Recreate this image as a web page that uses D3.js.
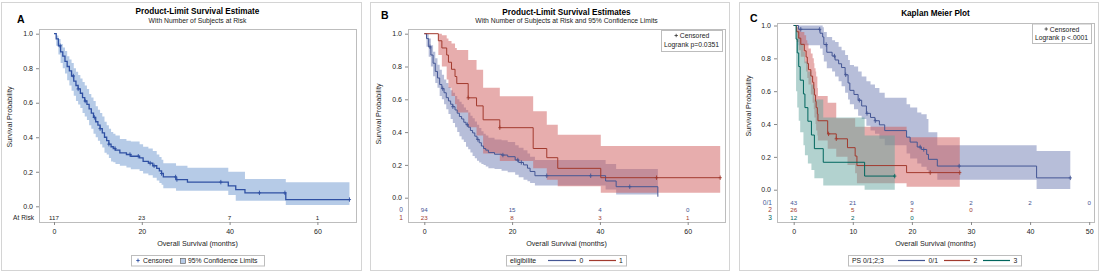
<!DOCTYPE html>
<html>
<head>
<meta charset="utf-8">
<script src="https://cdn.jsdelivr.net/npm/d3@7"></script>
<style>
  body { margin: 0; background: #fff; }
  svg { display: block; font-family: "Liberation Sans", Arial, sans-serif; }
</style>
</head>
<body>
<svg id="chart" width="1100" height="272"></svg>
<script>
// ---- Panel A: all subjects ----
const aTime = [0,0.5,1,1.5,2,2.5,3,3.5,4,4.5,5,5.5,6,6.5,7,7.5,8,8.5,9,9.5,10,10.5,11,11.5,12,12.5,13,13.5,14,15,16.5,17.5,19.5,20.3,21.5,22.5,23.4,24,24.5,24.9,27.8,30.4,39.7,41.4,43.5,52.8];
const aSurv = [1,.97,.93,.895,.87,.84,.81,.785,.755,.725,.70,.68,.655,.63,.61,.59,.565,.54,.515,.49,.47,.45,.425,.40,.38,.36,.345,.335,.325,.31,.30,.29,.28,.26,.25,.235,.22,.205,.19,.17,.155,.14,.118,.097,.078,.039];
const aLow  = [1,.93,.88,.83,.80,.77,.73,.70,.67,.64,.61,.59,.57,.54,.52,.50,.47,.45,.42,.40,.38,.36,.34,.31,.30,.28,.26,.255,.245,.235,.225,.215,.205,.19,.18,.165,.15,.135,.125,.105,.09,.09,.065,.032,.032,.007];
const aUp   = [1,.99,.97,.94,.92,.90,.87,.85,.83,.80,.78,.76,.74,.72,.70,.68,.65,.63,.61,.58,.56,.54,.52,.49,.47,.45,.43,.42,.41,.39,.38,.375,.36,.345,.335,.32,.30,.285,.27,.25,.235,.224,.20,.20,.158,.14];
const aEnd = 67.3;
const aCens = [1.4,4.4,5.5,7.1,9.2,10.5,12.5,13.9,17.3,19.2,21.9,22.8,24.5,27.7,28.0,38,46.8,52.6,67.3];
const aRiskTimes = [0,20,40,60];
const aRisk = [117,23,7,1];

// ---- Panel B: eligibilite 0 / 1 ----
const bTime0 = [0,0.5,1,1.5,2,2.5,3,3.5,4,4.5,5,5.5,6,6.5,7,7.5,8,8.5,9,9.5,10,10.5,11,11.5,12,12.5,13,13.5,14,14.6,16,17.6,19,20.7,21.5,22.6,23.5,24.1,25.2,41.3,43.7,53.2];
const bSurv0 = [1,.97,.92,.87,.82,.77,.73,.69,.665,.64,.61,.59,.57,.555,.535,.515,.495,.48,.46,.445,.43,.41,.395,.375,.355,.335,.315,.30,.29,.275,.265,.26,.25,.23,.215,.20,.18,.16,.134,.102,.067,.006];
const bLow0  = [1,.92,.86,.80,.74,.70,.67,.62,.60,.57,.54,.51,.48,.455,.43,.40,.375,.355,.34,.31,.295,.275,.255,.24,.225,.215,.205,.20,.19,.18,.175,.165,.155,.14,.125,.11,.10,.09,.075,.05,.02,.02];
const bUp0   = [1,1,.97,.93,.89,.85,.81,.78,.75,.72,.70,.675,.655,.64,.62,.60,.585,.57,.55,.535,.52,.50,.485,.465,.445,.425,.405,.39,.38,.365,.355,.35,.34,.32,.305,.29,.27,.25,.23,.205,.175,.175];
const bEnd0 = 53.2;
const bCens0 = [1.3,4.2,6.5,9.8,12.2,17.9,21.3,22.1,27.9,37.9,46.8];

const bTime1 = [0,3.2,4.0,5.1,5.5,6.2,7.0,7.4,10.0,11.9,13.4,17.2,24.8,27.9,30.4,40.2];
const bSurv1 = [1,.957,.913,.870,.826,.783,.739,.696,.609,.56,.475,.427,.30,.244,.179,.122];
const bLow1  = [1,.87,.80,.72,.67,.62,.57,.52,.43,.38,.27,.224,.18,.11,.07,.03];
const bUp1   = [1,1,.99,.97,.955,.94,.913,.90,.84,.78,.67,.618,.527,.445,.384,.315];
const bEnd1 = 67.4;
const bCens1 = [10.0,17.2,52.9,67.4];

const bRiskTimes = [0,20,40,60];
const bRisk0 = [94,15,4,0];
const bRisk1 = [23,8,3,1];

// ---- Panel C: PS 0/1, 2, 3 ----
const cTime0 = [0,0.8,4.45,4.9,5.1,5.6,6.5,7.0,7.6,8.1,8.7,9.2,9.5,10.2,10.9,11.5,12.3,13.0,13.75,14.5,15.4,19.1,19.7,20.9,21.6,22.5,22.8,24.3,41.1];
const cSurv0 = [1,.977,.953,.93,.884,.837,.814,.79,.767,.744,.70,.65,.605,.58,.545,.51,.465,.44,.42,.395,.36,.32,.29,.26,.245,.215,.185,.144,.072];
const cLow0  = [1,.88,.86,.82,.78,.74,.72,.69,.66,.63,.59,.55,.52,.49,.45,.43,.39,.36,.34,.31,.27,.22,.19,.16,.14,.12,.10,.06,.005];
const cUp0   = [1,1,1,.99,.96,.93,.91,.90,.87,.85,.82,.79,.76,.75,.72,.69,.66,.64,.62,.59,.56,.52,.50,.47,.46,.43,.35,.27,.235];
const cEnd0 = 46.8;
const cCens0 = [1.2,4.4,5.5,6.9,8.8,11.1,12.4,13.8,21.4,22.0,28.0,46.8];

const cTime2 = [0,0.5,0.85,1.2,1.8,2.1,2.3,2.5,2.9,3.2,3.4,3.5,3.7,3.8,4.0,4.1,5.75,7.2,9.1,10.4,10.7,19.1];
const cSurv2 = [1,.962,.923,.885,.846,.808,.769,.731,.692,.654,.615,.577,.538,.50,.462,.42,.34,.31,.256,.205,.147,.104];
const cLow2  = [1,.90,.85,.81,.77,.72,.68,.64,.58,.53,.49,.44,.40,.36,.33,.30,.25,.20,.15,.10,.04,.018];
const cUp2   = [1,.99,.98,.96,.94,.91,.89,.86,.83,.80,.77,.74,.72,.69,.62,.57,.53,.435,.435,.384,.384,.32];
const cEnd2 = 28.1;
const cCens2 = [5.9,7.2,23.1,28.1];

const cTime3 = [0,0.4,0.6,0.85,1.1,1.65,1.9,2.4,3.0,3.5,5.0,12.0];
const cSurv3 = [1,.917,.833,.75,.667,.583,.50,.417,.333,.25,.167,.083];
const cLow3  = [1,.6,.5,.42,.35,.27,.21,.16,.12,.07,.025,0];
const cUp3   = [1,.99,.97,.93,.89,.84,.78,.72,.64,.55,.44,.33];
const cEnd3 = 17.1;
const cCens3 = [17.1];

const cRiskTimes = [0,10,20,30,40,50];
const cRisk0 = [43,21,9,2,2,0];
const cRisk2 = [26,5,2,0];
const cRisk3 = [12,2,0];

const yTicks = [0,0.2,0.4,0.6,0.8,1.0];

// colours (SAS HTMLBlue-like)
const blue = "#445694", red = "#A23A2E", green = "#01665E";
const bandBlue = "#6F7EB3", bandRed = "#D05B5B", bandGreen = "#66A5A0";
const lineA = "#2F50A3", bandA = "#B6CBE7";

const svg = d3.select("#chart");

function curve(time, surv, low, up, end, cens, color, band, bandOpacity, width) {
  return { time, surv, low, up, end, cens, color, band, bandOpacity, width };
}

function stepVal(times, vals, t) {
  const i = d3.bisectRight(times, t) - 1;
  return vals[Math.max(i, 0)];
}

function drawPanel(p) {
  const g = svg.append("g");
  // outer panel border
  g.append("rect").attr("x", p.box[0] + 0.5).attr("y", 2.5)
    .attr("width", p.box[1] - p.box[0]).attr("height", 268)
    .attr("fill", "none").attr("stroke", "#d4d4d4");

  const x = d3.scaleLinear().domain(p.xDomain).range(p.xRange);
  const y = d3.scaleLinear().domain([0, 1]).range(p.yRange);
  const f = p.frame;

  // panel letter
  g.append("text").attr("x", p.letterPos[0]).attr("y", p.letterPos[1])
    .attr("font-size", 10.5).attr("font-weight", "bold").text(p.letter);

  // titles
  const cx = f.x + f.w / 2;
  g.append("text").attr("x", cx).attr("y", p.titleY).attr("text-anchor", "middle")
    .attr("font-size", 8.2).attr("font-weight", "bold").text(p.title);
  if (p.subtitle) {
    g.append("text").attr("x", cx).attr("y", p.titleY + 8.5).attr("text-anchor", "middle")
      .attr("font-size", 6.8).attr("fill", "#222").text(p.subtitle);
  }

  // bands
  const clip = "clip" + p.letter;
  g.append("clipPath").attr("id", clip).append("rect")
    .attr("x", f.x).attr("y", f.y).attr("width", f.w).attr("height", f.h);
  const plot = g.append("g").attr("clip-path", `url(#${clip})`);

  const area = d3.area().curve(d3.curveStepAfter)
    .x(d => x(d[0])).y0(d => y(d[1])).y1(d => y(d[2]));
  const line = d3.line().curve(d3.curveStepAfter)
    .x(d => x(d[0])).y(d => y(d[1]));

  p.curves.forEach(c => {
    const pts = c.time.map((t, i) => [t, c.low[i], c.up[i]]);
    pts.push([c.end, c.low[c.low.length - 1], c.up[c.up.length - 1]]);
    plot.append("path").attr("d", area(pts))
      .attr("fill", c.band).attr("fill-opacity", c.bandOpacity);
  });
  p.curves.forEach(c => {
    const pts = c.time.map((t, i) => [t, c.surv[i]]);
    pts.push([c.end, c.surv[c.surv.length - 1]]);
    plot.append("path").attr("d", line(pts)).attr("fill", "none")
      .attr("stroke", c.color).attr("stroke-width", c.width);
    plot.selectAll(null).data(c.cens).join("path")
      .attr("transform", t => `translate(${x(t)},${y(stepVal(c.time, c.surv, t))})`)
      .attr("d", "M-1.6,0H1.6M0,-2.2V2.2")
      .attr("stroke", c.color).attr("stroke-width", 0.9);
  });

  // frame
  g.append("rect").attr("x", f.x + 0.5).attr("y", f.y + 0.5).attr("width", f.w).attr("height", f.h)
    .attr("fill", "none").attr("stroke", "#bdbdbd");

  // axes
  const yAxis = g.append("g").attr("transform", `translate(${f.x},0)`)
    .call(d3.axisLeft(y).tickValues(yTicks).tickFormat(d3.format(".1f")).tickSize(3).tickPadding(3));
  const xAxis = g.append("g").attr("transform", `translate(0,${f.y + f.h})`)
    .call(d3.axisBottom(x).tickValues(p.xTicks).tickSize(3).tickPadding(4));
  [yAxis, xAxis].forEach(a => {
    a.select(".domain").remove();
    a.selectAll(".tick line").attr("stroke", "#888");
    a.selectAll(".tick text").attr("fill", "#222").attr("font-size", 7)
      .attr("font-family", "Liberation Sans, Arial, sans-serif");
  });

  // axis titles
  g.append("text").attr("x", cx).attr("y", 246).attr("text-anchor", "middle")
    .attr("font-size", 7.2).attr("fill", "#222").text("Overall Survival (months)");
  g.append("text").attr("transform", `translate(${p.yLabelX},${p.yLabelY}) rotate(-90)`)
    .attr("text-anchor", "middle").attr("font-size", 7.2).attr("fill", "#222")
    .text("Survival Probability");

  // at-risk table
  p.risk.forEach(r => {
    g.append("text").attr("x", f.x - 5).attr("y", r.y).attr("text-anchor", "end")
      .attr("font-size", 6.6).attr("fill", r.labelColor).text(r.label);
    g.selectAll(null).data(r.values).join("text")
      .attr("x", (v, i) => x(r.times[i])).attr("y", r.y).attr("text-anchor", "middle")
      .attr("font-size", 6.2).attr("fill", r.color).text(v => v);
  });

  // inset legend (Censored + logrank)
  if (p.inset) {
    const b = p.inset;
    g.append("rect").attr("x", b.x + 0.5).attr("y", b.y + 0.5).attr("width", b.w).attr("height", b.h)
      .attr("fill", "#fff").attr("stroke", "#bdbdbd");
    const mx = b.x + b.w / 2;
    g.append("path").attr("d", `M${mx - 17},${b.y + 5.5}h3.4M${mx - 15.3},${b.y + 3.8}v3.4`)
      .attr("stroke", "#333").attr("stroke-width", 0.8);
    g.append("text").attr("x", mx + 3).attr("y", b.y + 8).attr("text-anchor", "middle")
      .attr("font-size", 6.8).attr("fill", "#222").text("Censored");
    g.append("text").attr("x", mx).attr("y", b.y + 16.5).attr("text-anchor", "middle")
      .attr("font-size", 6.8).attr("fill", "#222").text(b.text);
  }

  // bottom legend
  const L = p.legend;
  g.append("rect").attr("x", L.x + 0.5).attr("y", 255.5).attr("width", L.w).attr("height", 10.5)
    .attr("fill", "#fff").attr("stroke", "#bdbdbd");
  L.items.forEach(it => {
    if (it.type === "text") {
      g.append("text").attr("x", it.x).attr("y", 263.3).attr("font-size", 6.8)
        .attr("fill", "#222").text(it.text);
    } else if (it.type === "line") {
      g.append("line").attr("x1", it.x).attr("x2", it.x + it.len).attr("y1", 260.5).attr("y2", 260.5)
        .attr("stroke", it.color).attr("stroke-width", 1.2);
    } else if (it.type === "plus") {
      g.append("path").attr("d", `M${it.x - 1.7},260.5h3.4M${it.x},258.6v3.8`)
        .attr("stroke", it.color).attr("stroke-width", 0.9);
    } else if (it.type === "square") {
      g.append("rect").attr("x", it.x + 0.5).attr("y", 258.5).attr("width", 5).attr("height", 5)
        .attr("fill", it.color).attr("stroke", "#666").attr("stroke-width", 0.7);
    }
  });
}

// ---- Panel A ----
drawPanel({
  letter: "A", letterPos: [17, 22.5], box: [1, 361],
  title: "Product-Limit Survival Estimate", subtitle: "With Number of Subjects at Risk", titleY: 14,
  frame: { x: 39, y: 29, w: 317, h: 193 },
  xDomain: [0, 60], xRange: [54, 317.4], yRange: [206.3, 33.7], xTicks: [0, 20, 40, 60],
  yLabelX: 12, yLabelY: 117,
  curves: [curve(aTime, aSurv, aLow, aUp, aEnd, aCens, lineA, bandA, 1, 1.3)],
  risk: [{ label: "At Risk", labelColor: "#222", color: "#222", y: 220, times: aRiskTimes, values: aRisk }],
  legend: { x: 131, w: 133, items: [
    { type: "plus", x: 138, color: lineA },
    { type: "text", x: 143, text: "Censored" },
    { type: "square", x: 180, color: bandA },
    { type: "text", x: 188, text: "95% Confidence Limits" }
  ] }
});

// ---- Panel B ----
drawPanel({
  letter: "B", letterPos: [381, 18.5], box: [370, 729],
  title: "Product-Limit Survival Estimates",
  subtitle: "With Number of Subjects at Risk and 95% Confidence Limits", titleY: 14.5,
  frame: { x: 408, y: 29, w: 317, h: 193 },
  xDomain: [0, 60], xRange: [424.3, 687.7], yRange: [197.7, 33.7], xTicks: [0, 20, 40, 60],
  yLabelX: 381, yLabelY: 114,
  curves: [
    curve(bTime0, bSurv0, bLow0, bUp0, bEnd0, bCens0, blue, bandBlue, 0.5, 1),
    curve(bTime1, bSurv1, bLow1, bUp1, bEnd1, bCens1, red, bandRed, 0.5, 1)
  ],
  risk: [
    { label: "0", labelColor: blue, color: blue, y: 211.8, times: bRiskTimes, values: bRisk0 },
    { label: "1", labelColor: red, color: red, y: 219.5, times: bRiskTimes, values: bRisk1 }
  ],
  inset: { x: 661, y: 30, w: 61, h: 21, text: "Logrank p=0.0351" },
  legend: { x: 506, w: 120, items: [
    { type: "text", x: 510, text: "eligibilite" },
    { type: "line", x: 548, len: 28, color: blue },
    { type: "text", x: 579.5, text: "0" },
    { type: "line", x: 589, len: 27, color: red },
    { type: "text", x: 619, text: "1" }
  ] }
});

// ---- Panel C ----
drawPanel({
  letter: "C", letterPos: [750, 21.5], box: [739, 1098],
  title: "Kaplan Meier Plot", subtitle: null, titleY: 16,
  frame: { x: 777, y: 23, w: 317, h: 199 },
  xDomain: [0, 50], xRange: [793.7, 1089.2], yRange: [189.7, 25.5], xTicks: [0, 10, 20, 30, 40, 50],
  yLabelX: 751, yLabelY: 106,
  curves: [
    curve(cTime0, cSurv0, cLow0, cUp0, cEnd0, cCens0, blue, bandBlue, 0.5, 1),
    curve(cTime2, cSurv2, cLow2, cUp2, cEnd2, cCens2, red, bandRed, 0.5, 1),
    curve(cTime3, cSurv3, cLow3, cUp3, cEnd3, cCens3, green, bandGreen, 0.5, 1)
  ],
  risk: [
    { label: "0/1", labelColor: blue, color: blue, y: 204.5, times: cRiskTimes, values: cRisk0 },
    { label: "2", labelColor: red, color: red, y: 212.3, times: cRiskTimes, values: cRisk2 },
    { label: "3", labelColor: green, color: green, y: 220.2, times: cRiskTimes, values: cRisk3 }
  ],
  inset: { x: 1032, y: 23.5, w: 59, h: 19.5, text: "Logrank p <.0001" },
  legend: { x: 848, w: 173, items: [
    { type: "text", x: 852, text: "PS 0/1;2;3" },
    { type: "line", x: 898, len: 27, color: blue },
    { type: "text", x: 928.5, text: "0/1" },
    { type: "line", x: 944, len: 26, color: red },
    { type: "text", x: 973.5, text: "2" },
    { type: "line", x: 983, len: 27, color: green },
    { type: "text", x: 1013.5, text: "3" }
  ] }
});
</script>
</body>
</html>
